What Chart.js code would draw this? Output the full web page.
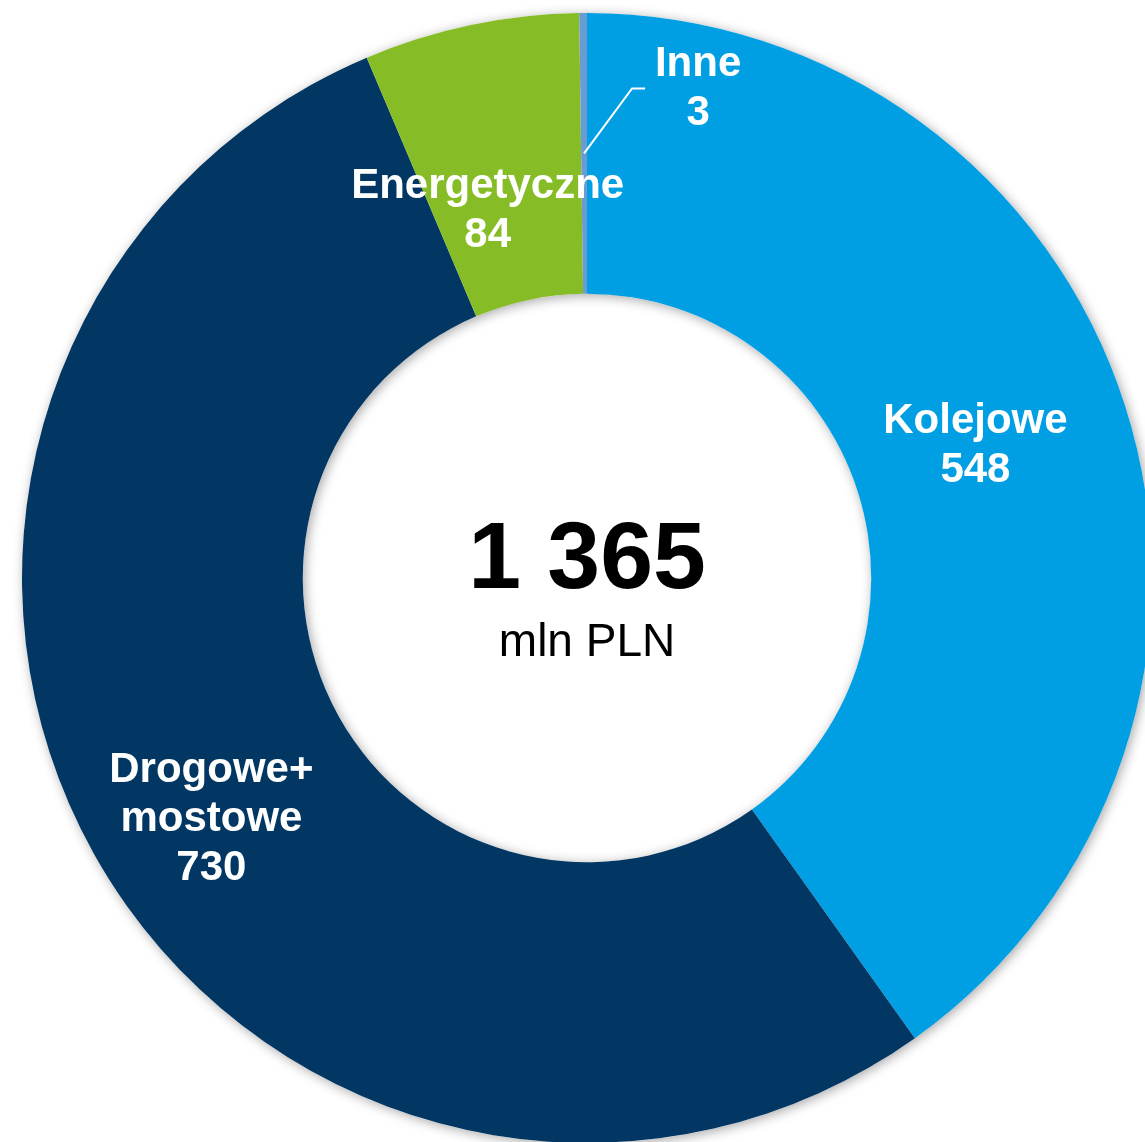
<!DOCTYPE html>
<html>
<head>
<meta charset="utf-8">
<script src="https://cdn.jsdelivr.net/npm/chart.js@4"></script>
<style>
    html, body { margin: 0; padding: 0; background: #fff; overflow: hidden; }
    #wrap { position: absolute; left: 0; top: 0; width: 1174px; height: 1156px; }
</style>
</head>
<body>
<div id="wrap"><canvas id="myChart" width="1174" height="1156"></canvas></div>
<script>
// Dane
const categories = ['Kolejowe', 'Drogowe+ mostowe', 'Energetyczne', 'Inne'];
const labelLines = [['Kolejowe'], ['Drogowe+', 'mostowe'], ['Energetyczne'], ['Inne']];
const values = [548, 730, 84, 3];
const totalLabel = '1 365';
const unitLabel = 'mln PLN';
const colors = ['#009FE3', '#023764', '#86BC25', '#6A9BD2'];

// przesunięcie etykiet względem środka wycinka (px)
const labelOffsets = [[-16, -3], [-5, 34], [-12, 48], null];

const FONT = '"Liberation Sans", Arial, sans-serif';

const ringShadow = {
    id: 'ringShadow',
    beforeDatasetsDraw(chart) {
        const arc = chart.getDatasetMeta(0).data[0];
        if (!arc) return;
        const ctx = chart.ctx;
        ctx.save();
        ctx.shadowColor = 'rgba(0,0,0,0.35)';
        ctx.shadowBlur = 12;
        ctx.shadowOffsetX = 2;
        ctx.shadowOffsetY = 2;
        ctx.fillStyle = '#ffffff';
        ctx.beginPath();
        ctx.arc(arc.x, arc.y, arc.outerRadius, 0, Math.PI * 2);
        ctx.arc(arc.x, arc.y, arc.innerRadius, 0, Math.PI * 2, true);
        ctx.fill('evenodd');
        ctx.restore();
    }
};

const sliceLabels = {
    id: 'sliceLabels',
    afterDatasetsDraw(chart) {
        const ctx = chart.ctx;
        const meta = chart.getDatasetMeta(0);
        ctx.save();
        ctx.fillStyle = '#ffffff';
        ctx.textAlign = 'center';
        ctx.textBaseline = 'middle';
        ctx.font = 'bold 42px ' + FONT;
        const lh = 49;
        meta.data.forEach((arc, i) => {
            const mid = (arc.startAngle + arc.endAngle) / 2;
            const r = (arc.innerRadius + arc.outerRadius) / 2;
            const cx = arc.x + Math.cos(mid) * r;
            const cy = arc.y + Math.sin(mid) * r;
            const lines = labelLines[i].concat([String(values[i])]);
            if (labelOffsets[i]) {
                const x = cx + labelOffsets[i][0];
                const y = cy + labelOffsets[i][1] - (lines.length - 1) * lh / 2;
                lines.forEach((t, k) => ctx.fillText(t, x, y + k * lh));
            } else {
                // mały wycinek - linia odniesienia
                ctx.strokeStyle = '#ffffff';
                ctx.lineWidth = 2;
                ctx.beginPath();
                ctx.moveTo(cx, cy);
                ctx.lineTo(cx + 48, cy - 65);
                ctx.lineTo(cx + 61, cy - 65);
                ctx.stroke();
                const x = cx + 114;
                const y = cy - 89;
                lines.forEach((t, k) => ctx.fillText(t, x, y + k * lh));
            }
        });
        // środek
        const a = meta.data[0];
        ctx.fillStyle = '#000000';
        ctx.textBaseline = 'alphabetic';
        ctx.font = 'bold 95px ' + FONT;
        ctx.fillText(totalLabel, a.x, a.y + 10);
        ctx.font = '46px ' + FONT;
        ctx.fillText(unitLabel, a.x, a.y + 78);
        ctx.restore();
    }
};

const ctx = document.getElementById('myChart').getContext('2d');
const myChart = new Chart(ctx, {
    type: 'doughnut',
    data: {
        labels: categories,
        datasets: [{
            data: values,
            backgroundColor: colors,
            borderWidth: 0
        }]
    },
    options: {
        responsive: false,
        devicePixelRatio: 1,
        animation: false,
        cutout: '50.3%',
        layout: { padding: { top: 13, bottom: 13, left: 22, right: 22 } },
        plugins: {
            legend: { display: false },
            tooltip: { enabled: false }
        }
    },
    plugins: [ringShadow, sliceLabels]
});
</script>
</body>
</html>
